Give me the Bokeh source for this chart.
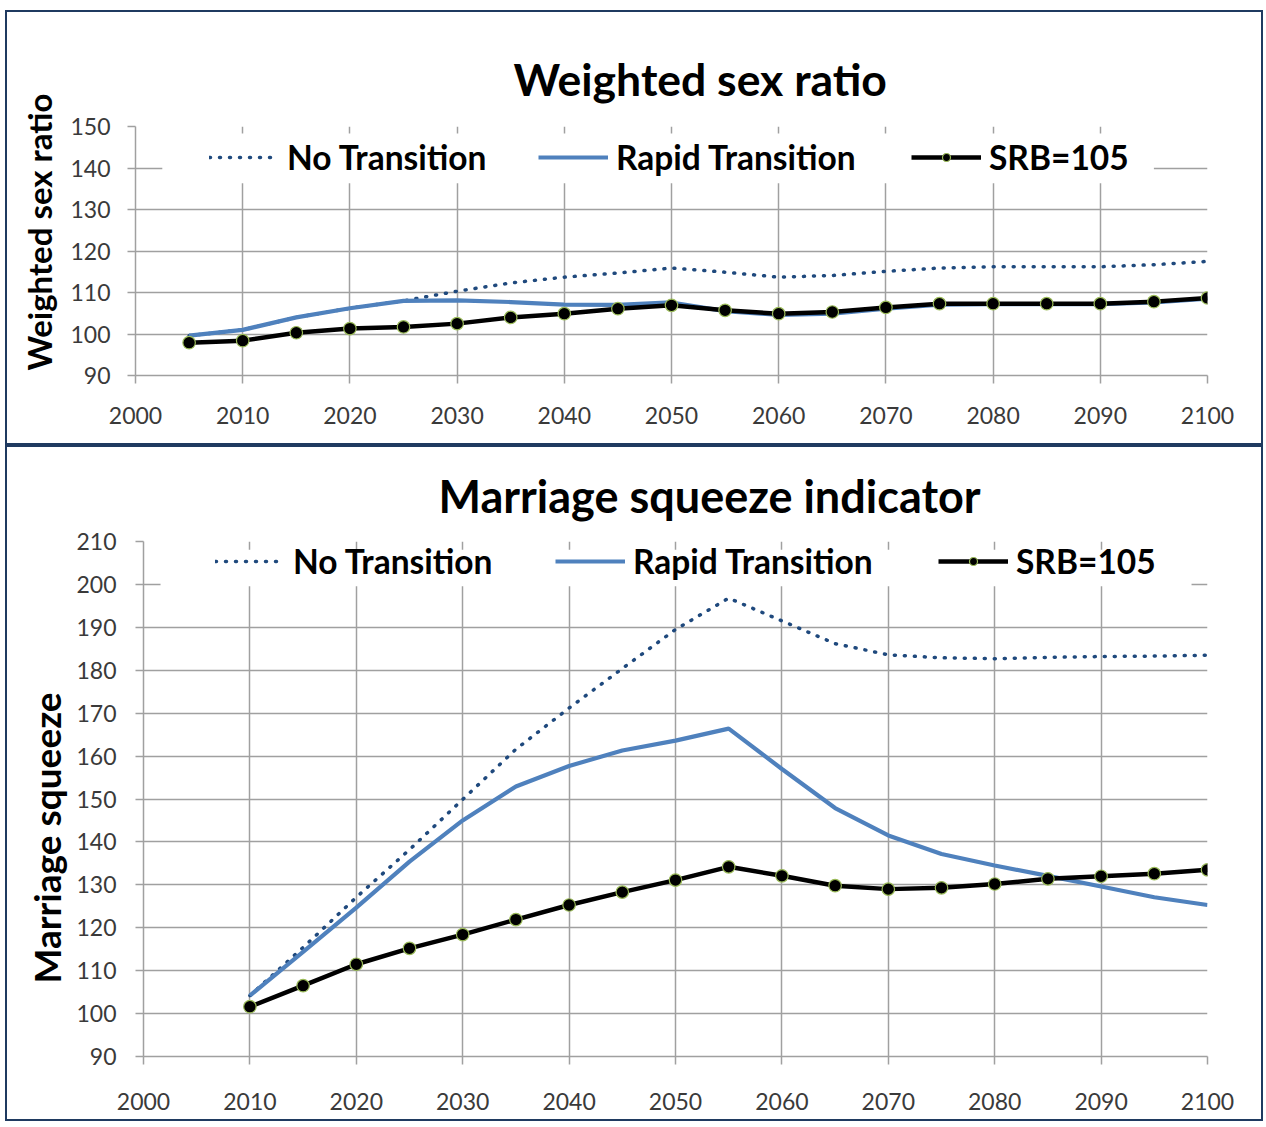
from bokeh.plotting import figure
from bokeh.models import Legend, LegendItem, BoxAnnotation, Range1d, Title
from bokeh.layouts import column
from bokeh.embed import file_html
from bokeh.resources import INLINE

# ---------------- data ----------------
years_top = [2005, 2010, 2015, 2020, 2025, 2030, 2035, 2040, 2045, 2050,
             2055, 2060, 2065, 2070, 2075, 2080, 2085, 2090, 2095, 2100]
no_trans_top = [99.6, 101.0, 104.0, 106.2, 108.0, 110.3, 112.3, 113.7, 114.7, 115.9,
                114.9, 113.7, 114.1, 115.1, 115.9, 116.2, 116.2, 116.2, 116.7, 117.5]
rapid_top = [99.6, 101.0, 104.0, 106.2, 108.0, 108.1, 107.7, 107.1, 107.0, 107.6,
             105.5, 104.6, 104.9, 106.1, 107.1, 107.2, 107.2, 107.2, 107.6, 108.5]
srb_top = [97.9, 98.4, 100.3, 101.3, 101.7, 102.5, 104.0, 104.9, 106.1, 106.9,
           105.7, 104.9, 105.3, 106.4, 107.3, 107.3, 107.3, 107.3, 107.8, 108.7]

years_bot = [2010, 2015, 2020, 2025, 2030, 2035, 2040, 2045, 2050, 2055,
             2060, 2065, 2070, 2075, 2080, 2085, 2090, 2095, 2100]
no_trans_bot = [104.2, 115.4, 127.1, 138.2, 149.9, 161.6, 171.2, 180.4, 189.5, 196.8,
                191.5, 186.2, 183.6, 182.9, 182.7, 183.0, 183.2, 183.3, 183.5]
rapid_bot = [104.2, 114.4, 124.7, 135.4, 145.0, 152.9, 157.7, 161.3, 163.6, 166.4,
             157.0, 147.9, 141.5, 137.2, 134.5, 132.1, 129.6, 127.1, 125.3]
srb_bot = [101.6, 106.5, 111.5, 115.2, 118.4, 121.9, 125.3, 128.3, 131.1, 134.2,
           132.1, 129.8, 129.0, 129.3, 130.2, 131.4, 132.0, 132.6, 133.5]

x_ticks = [2000, 2010, 2020, 2030, 2040, 2050, 2060, 2070, 2080, 2090, 2100]
y_ticks_top = [90, 100, 110, 120, 130, 140, 150]
y_grid_top = [90, 100, 110, 120, 130, 140]
y_ticks_bot = [90, 100, 110, 120, 130, 140, 150, 160, 170, 180, 190, 200, 210]

series_names = ["No Transition", "Rapid Transition", "SRB=105"]
title_top = "Weighted sex ratio"
ylabel_top = "Weighted sex ratio"
title_bot = "Marriage squeeze indicator"
ylabel_bot = "Marriage squeeze"

# ---------------- style ----------------
FONT = "Lato"
NAVY = "#1F3A60"
DOT_COLOR = "#1F497D"
BLUE = "#4F81BD"
GRID = "#A0A0A0"
MARK_LINE = "#9BBB59"
TICK_COLOR = "#3A3A3A"


def make_panel(width, height, borders, yr, yticks, ygrid, xs, nt, rp, srb,
               title, ylabel, title_cfg, ylabel_cfg, box, leg_x, leg_y,
               tick_standoff):
    p = figure(width=width, height=height, output_backend="svg",
               toolbar_location=None, x_range=Range1d(2000, 2100),
               y_range=Range1d(*yr),
               min_border_left=borders[0], min_border_right=borders[1],
               min_border_top=borders[2], min_border_bottom=borders[3])
    p.outline_line_color = None
    p.background_fill_color = "white"
    p.border_fill_color = "white"
    p.styles = {"border": "2px solid " + NAVY}

    p.xaxis.ticker = x_ticks
    p.yaxis.ticker = yticks
    p.xgrid.ticker = x_ticks
    p.ygrid.ticker = ygrid
    for g in (p.xgrid, p.ygrid):
        g.grid_line_color = GRID
        g.grid_line_width = 1.5
    for ax in (p.xaxis, p.yaxis):
        ax.axis_line_color = GRID
        ax.axis_line_width = 1.5
        ax.major_tick_line_color = GRID
        ax.major_tick_line_width = 1.5
        ax.major_tick_out = 8
        ax.major_tick_in = 0
        ax.minor_tick_line_color = None
        ax.major_label_text_font = FONT
        ax.major_label_text_font_size = "23px"
        ax.major_label_text_color = TICK_COLOR
    p.xaxis.major_label_standoff = tick_standoff[0]
    p.yaxis.major_label_standoff = tick_standoff[1]

    # white legend background covering grid
    p.add_layout(BoxAnnotation(left=box[0], right=box[1], bottom=box[2], top=box[3],
                               fill_color="white", fill_alpha=1.0, line_color=None,
                               level="underlay"))

    r1 = p.line(xs, nt, line_color=DOT_COLOR, line_width=3.5, line_dash="1 9",
                line_cap="round")
    r2 = p.line(xs, rp, line_color=BLUE, line_width=4.2)
    r3 = p.line(xs, srb, line_color="black", line_width=4.5)
    r4 = p.scatter(xs, srb, size=12.5, fill_color="black", line_color=MARK_LINE,
                   line_width=1.2)

    for i, (name, rs) in enumerate(zip(series_names, [[r1], [r2], [r3, r4]])):
        lg = Legend(items=[LegendItem(label=name, renderers=rs)],
                    location=(leg_x[i], leg_y), orientation="horizontal",
                    background_fill_alpha=0.0, border_line_color=None,
                    padding=0, margin=0, spacing=0,
                    glyph_width=70, glyph_height=20, label_standoff=8,
                    label_text_font=FONT, label_text_font_style="bold",
                    label_text_font_size="33.5px", label_text_color="black")
        p.add_layout(lg)

    # chart title (above) and y-axis title (left)
    p.add_layout(Title(text=title, align="left", offset=title_cfg[0],
                       standoff=title_cfg[1], text_font=FONT,
                       text_font_style="bold", text_font_size=title_cfg[2],
                       text_color="black"), "above")
    p.add_layout(Title(text=ylabel, align="left", offset=ylabel_cfg[0],
                       standoff=ylabel_cfg[1], text_font=FONT,
                       text_font_style="bold", text_font_size=ylabel_cfg[2],
                       text_color="black"), "left")
    return p


p1 = make_panel(1258, 435, (127, 58, 114, 72), (90, 150), y_ticks_top, y_grid_top,
                years_top, no_trans_top, rapid_top, srb_top,
                title_top, ylabel_top, (378, 44, "44.5px"), (5, 18, "33px"),
                (2002.5, 2095.0, 136.3, 148.3), [74, 403, 776], 198,
                (23, 17))
p2 = make_panel(1258, 676, (136, 58, 93, 67), (90, 210), y_ticks_bot, y_ticks_bot,
                years_bot, no_trans_bot, rapid_bot, srb_bot,
                title_bot, ylabel_bot, (295, 38, "45px"), (73, 9, "37px"),
                (2001.6, 2098.5, 199.6, 208.1), [72, 412, 795], 475,
                (28, 19))

layout = column(column(p1), column(p2), spacing=0,
                styles={"margin-left": "5px", "margin-top": "10px"})
open("out.html", "w").write(file_html(layout, INLINE))
